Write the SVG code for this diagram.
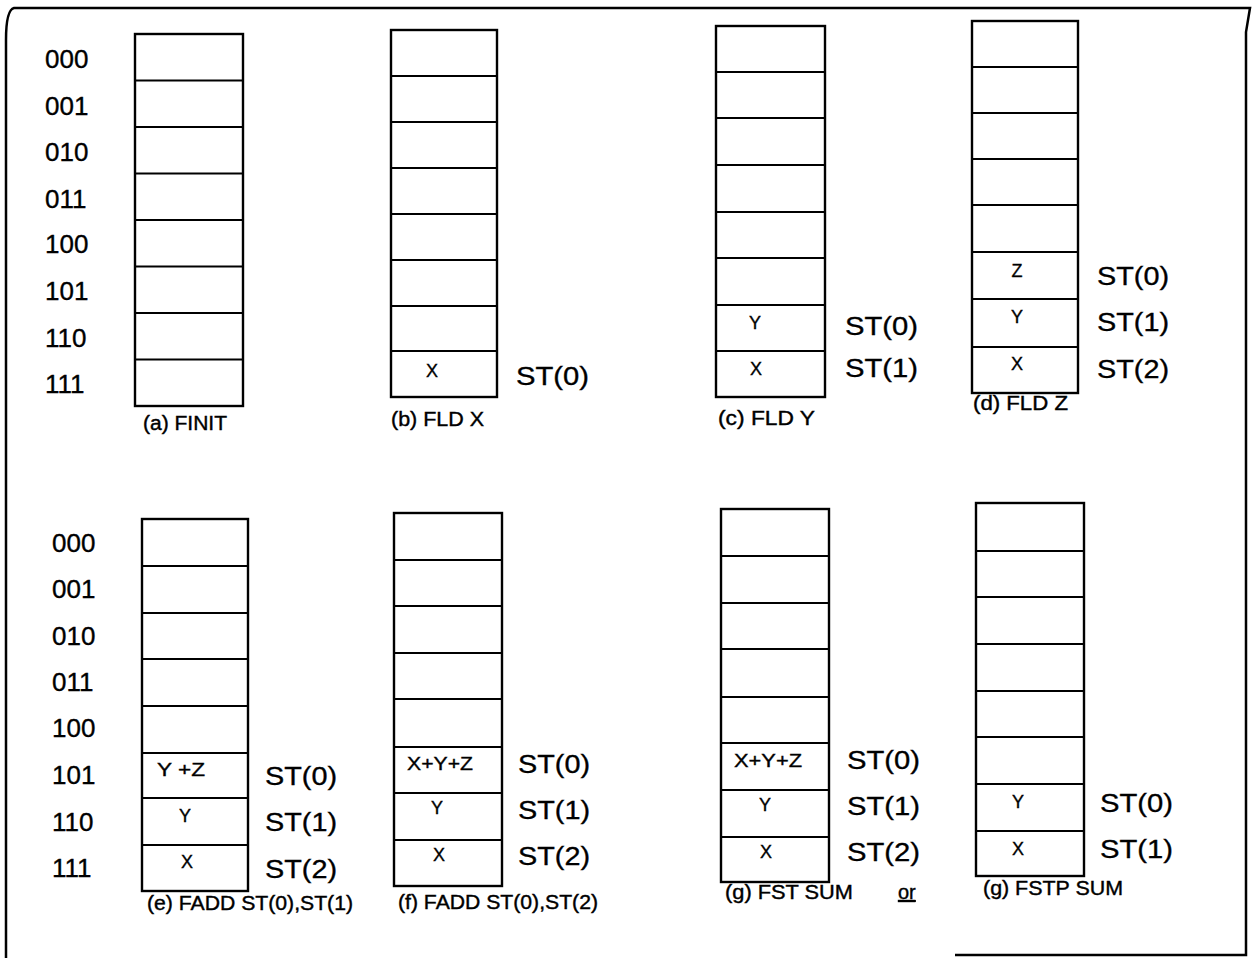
<svg xmlns="http://www.w3.org/2000/svg" width="1253" height="958" viewBox="0 0 1253 958">
<style>
.frame{fill:none;stroke:#000;stroke-width:2.5}
.box{fill:#fff;stroke:#000;stroke-width:2.4}
.div{fill:none;stroke:#000;stroke-width:2.2}
text{font-family:"Liberation Sans",Arial,sans-serif;fill:#000;stroke:#000;stroke-width:0.35}
.addr{font-size:26px}
.st{font-size:26px}
.cap{font-size:20px;stroke-width:0.4}
.cell{font-size:18px;text-anchor:middle}
</style>
<rect width="1253" height="958" fill="#fff"/>
<g id="frame">
<path class="frame" d="M6 958 V40 Q6 10 14 8 H1250 L1246 32 V955 H955"/>
</g>
<g id="addr-top">
<text class="addr" x="45" y="68">000</text>
<text class="addr" x="45" y="115">001</text>
<text class="addr" x="45" y="161">010</text>
<text class="addr" x="45" y="208">011</text>
<text class="addr" x="45" y="253">100</text>
<text class="addr" x="45" y="300">101</text>
<text class="addr" x="45" y="347">110</text>
<text class="addr" x="45" y="393">111</text>
</g>
<g id="addr-bottom">
<text class="addr" x="52" y="552">000</text>
<text class="addr" x="52" y="598">001</text>
<text class="addr" x="52" y="645">010</text>
<text class="addr" x="52" y="691">011</text>
<text class="addr" x="52" y="737">100</text>
<text class="addr" x="52" y="784">101</text>
<text class="addr" x="52" y="831">110</text>
<text class="addr" x="52" y="877">111</text>
</g>
<g id="stack-a">
<rect class="box" x="135" y="34" width="108" height="372"/>
<path class="div" d="M135 80.5H243M135 127H243M135 173.5H243M135 220H243M135 266.5H243M135 313H243M135 359.5H243"/>
<text class="cap" x="143" y="430" textLength="84" lengthAdjust="spacingAndGlyphs">(a) FINIT</text>
</g>
<g id="stack-b">
<rect class="box" x="391" y="30" width="106" height="367"/>
<path class="div" d="M391 76H497M391 122H497M391 168H497M391 214H497M391 260H497M391 306H497M391 351H497"/>
<text class="cell" x="432" y="377">X</text>
<text class="st" x="516" y="385" textLength="73" lengthAdjust="spacingAndGlyphs">ST(0)</text>
<text class="cap" x="391" y="426" textLength="93" lengthAdjust="spacingAndGlyphs">(b) FLD X</text>
</g>
<g id="stack-c">
<rect class="box" x="716" y="26" width="109" height="371"/>
<path class="div" d="M716 72H825M716 118H825M716 165H825M716 212H825M716 258H825M716 305H825M716 351H825"/>
<text class="cell" x="755" y="329">Y</text>
<text class="cell" x="756" y="375">X</text>
<text class="st" x="845" y="335" textLength="73" lengthAdjust="spacingAndGlyphs">ST(0)</text>
<text class="st" x="845" y="377" textLength="73" lengthAdjust="spacingAndGlyphs">ST(1)</text>
<text class="cap" x="718" y="425" textLength="97" lengthAdjust="spacingAndGlyphs">(c) FLD Y</text>
</g>
<g id="stack-d">
<rect class="box" x="972" y="21" width="106" height="372"/>
<path class="div" d="M972 67H1078M972 113H1078M972 159H1078M972 205H1078M972 252H1078M972 299H1078M972 347H1078"/>
<text class="cell" x="1017" y="277">Z</text>
<text class="cell" x="1017" y="323">Y</text>
<text class="cell" x="1017" y="370">X</text>
<text class="st" x="1097" y="285" textLength="72" lengthAdjust="spacingAndGlyphs">ST(0)</text>
<text class="st" x="1097" y="331" textLength="72" lengthAdjust="spacingAndGlyphs">ST(1)</text>
<text class="st" x="1097" y="378" textLength="72" lengthAdjust="spacingAndGlyphs">ST(2)</text>
<text class="cap" x="973" y="410" textLength="95" lengthAdjust="spacingAndGlyphs">(d) FLD Z</text>
</g>
<g id="stack-e">
<rect class="box" x="142" y="519" width="106" height="372"/>
<path class="div" d="M142 566H248M142 613H248M142 659H248M142 706H248M142 753H248M142 798H248M142 845H248"/>
<text class="cell" x="181" y="776" textLength="48" lengthAdjust="spacingAndGlyphs">Y +Z</text>
<text class="cell" x="185" y="822">Y</text>
<text class="cell" x="187" y="868">X</text>
<text class="st" x="265" y="785" textLength="72" lengthAdjust="spacingAndGlyphs">ST(0)</text>
<text class="st" x="265" y="831" textLength="72" lengthAdjust="spacingAndGlyphs">ST(1)</text>
<text class="st" x="265" y="878" textLength="72" lengthAdjust="spacingAndGlyphs">ST(2)</text>
<text class="cap" x="147" y="910" textLength="206" lengthAdjust="spacingAndGlyphs">(e) FADD ST(0),ST(1)</text>
</g>
<g id="stack-f">
<rect class="box" x="394" y="513" width="108" height="373"/>
<path class="div" d="M394 560H502M394 606H502M394 653H502M394 699H502M394 747H502M394 793H502M394 840H502"/>
<text class="cell" x="440" y="770" textLength="66" lengthAdjust="spacingAndGlyphs">X+Y+Z</text>
<text class="cell" x="437" y="814">Y</text>
<text class="cell" x="439" y="861">X</text>
<text class="st" x="518" y="773" textLength="72" lengthAdjust="spacingAndGlyphs">ST(0)</text>
<text class="st" x="518" y="819" textLength="72" lengthAdjust="spacingAndGlyphs">ST(1)</text>
<text class="st" x="518" y="865" textLength="72" lengthAdjust="spacingAndGlyphs">ST(2)</text>
<text class="cap" x="398" y="909" textLength="200" lengthAdjust="spacingAndGlyphs">(f) FADD ST(0),ST(2)</text>
</g>
<g id="stack-g-fst">
<rect class="box" x="721" y="509" width="108" height="373"/>
<path class="div" d="M721 556H829M721 603H829M721 649H829M721 697H829M721 743H829M721 790H829M721 837H829"/>
<text class="cell" x="768" y="767" textLength="68" lengthAdjust="spacingAndGlyphs">X+Y+Z</text>
<text class="cell" x="765" y="811">Y</text>
<text class="cell" x="766" y="858">X</text>
<text class="st" x="847" y="769" textLength="73" lengthAdjust="spacingAndGlyphs">ST(0)</text>
<text class="st" x="847" y="815" textLength="73" lengthAdjust="spacingAndGlyphs">ST(1)</text>
<text class="st" x="847" y="861" textLength="73" lengthAdjust="spacingAndGlyphs">ST(2)</text>
<text class="cap" x="725" y="899" textLength="128" lengthAdjust="spacingAndGlyphs">(g) FST SUM</text>
<text class="cap" x="898" y="899" text-decoration="underline">or</text>
</g>
<g id="stack-g-fstp">
<rect class="box" x="976" y="503" width="108" height="373"/>
<path class="div" d="M976 551H1084M976 597H1084M976 644H1084M976 691H1084M976 737H1084M976 784H1084M976 831H1084"/>
<text class="cell" x="1018" y="808">Y</text>
<text class="cell" x="1018" y="855">X</text>
<text class="st" x="1100" y="812" textLength="73" lengthAdjust="spacingAndGlyphs">ST(0)</text>
<text class="st" x="1100" y="858" textLength="73" lengthAdjust="spacingAndGlyphs">ST(1)</text>
<text class="cap" x="983" y="895" textLength="140" lengthAdjust="spacingAndGlyphs">(g) FSTP SUM</text>
</g>
<g id="connectors"></g>
</svg>
